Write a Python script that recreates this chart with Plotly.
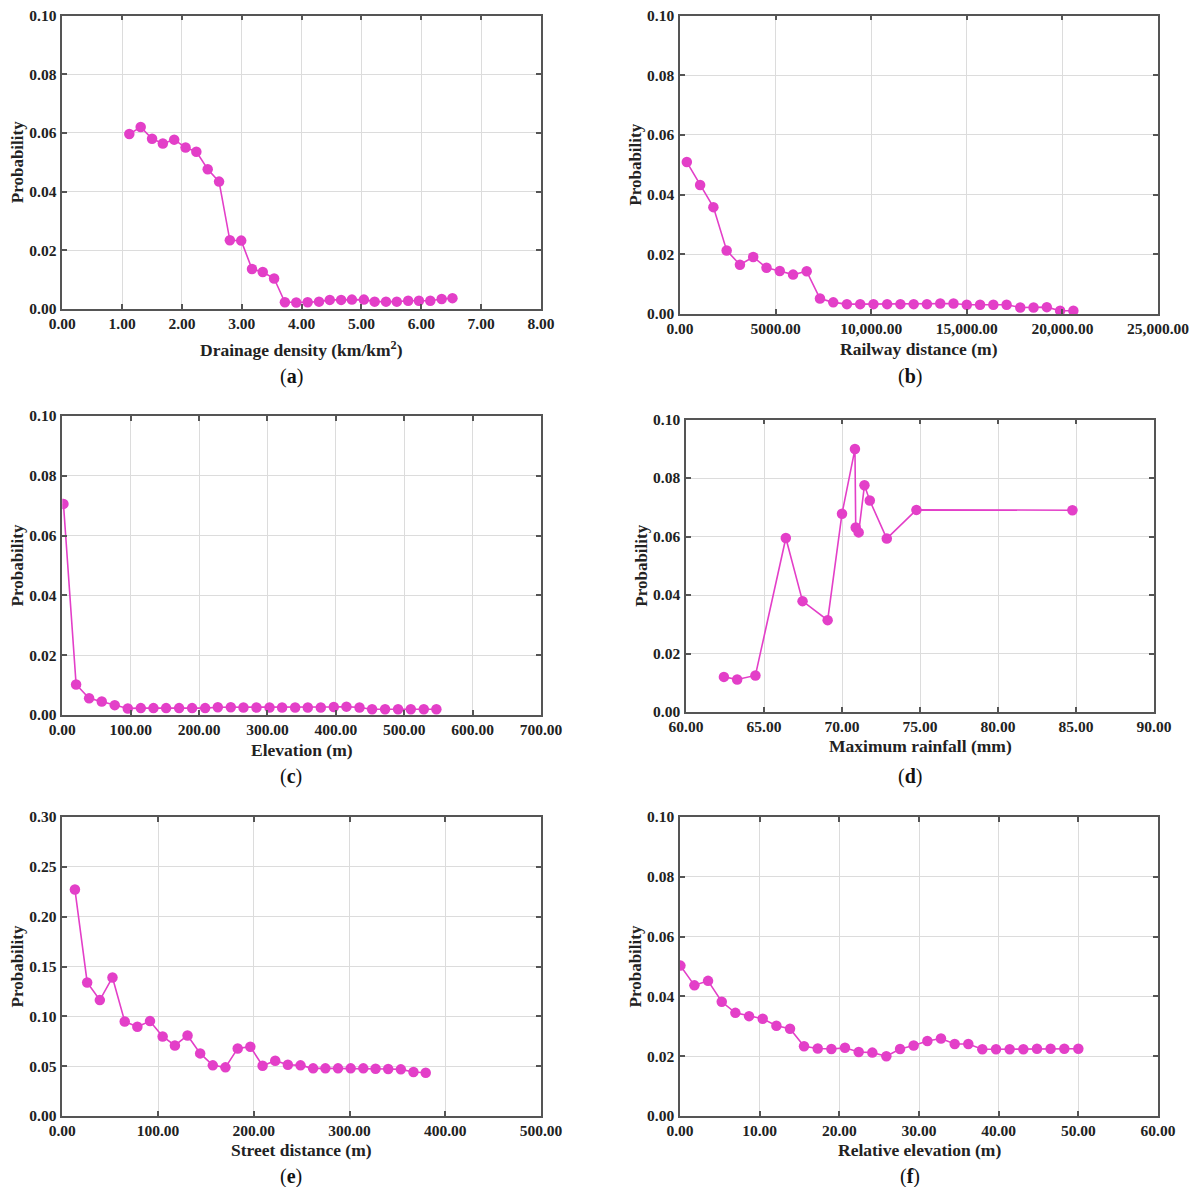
import plotly.graph_objects as go

W, H = 1195, 1187

# ---------------- data ----------------
dd_x = [1.12, 1.31, 1.50, 1.68, 1.87, 2.06, 2.24, 2.43, 2.62, 2.80, 2.99, 3.17, 3.35, 3.54, 3.72,
        3.91, 4.10, 4.29, 4.47, 4.66, 4.84, 5.04, 5.22, 5.41, 5.59, 5.78, 5.96, 6.15, 6.34, 6.52]
dd_p = [0.0596, 0.0620, 0.0580, 0.0564, 0.0577, 0.0550, 0.0536, 0.0476, 0.0434, 0.0234, 0.0233,
        0.0136, 0.0126, 0.0104, 0.0023, 0.0022, 0.0023, 0.0025, 0.0031, 0.0031, 0.0032, 0.0032,
        0.0025, 0.0025, 0.0025, 0.0028, 0.0028, 0.0028, 0.0034, 0.0037]

rail_x = [357, 1052, 1746, 2440, 3135, 3829, 4524, 5218, 5913, 6627, 7321, 8016, 8730, 9424, 10119,
          10833, 11527, 12222, 12916, 13611, 14305, 14999, 15694, 16388, 17082, 17796, 18491, 19185,
          19880, 20574]
rail_p = [0.0509, 0.0432, 0.0358, 0.0213, 0.0165, 0.0191, 0.0155, 0.0144, 0.0132, 0.0143, 0.0052,
          0.0039, 0.0033, 0.0033, 0.0033, 0.0033, 0.0033, 0.0033, 0.0033, 0.0035, 0.0035, 0.0031,
          0.0031, 0.0031, 0.0031, 0.0022, 0.0022, 0.0023, 0.0011, 0.0011]

elev_x = [1.7, 20.2, 39.2, 57.7, 76.7, 95.8, 114.8, 133.3, 151.8, 170.8, 189.8, 208.9, 227.4, 246.4,
          264.9, 283.9, 303.0, 321.4, 340.5, 359.0, 378.0, 397.0, 415.5, 434.6, 453.0, 472.0, 491.0,
          509.6, 528.6, 547.0]
elev_p = [0.0706, 0.0102, 0.0056, 0.0045, 0.0033, 0.0022, 0.0023, 0.0023, 0.0023, 0.0023, 0.0023,
          0.0023, 0.0026, 0.0026, 0.0025, 0.0025, 0.0025, 0.0025, 0.0025, 0.0025, 0.0025, 0.0027,
          0.0028, 0.0025, 0.0019, 0.0019, 0.0019, 0.0019, 0.0019, 0.0019]

rain_x = [62.43, 63.28, 64.45, 66.40, 67.47, 69.08, 70.00, 70.83, 70.88, 71.07, 71.44, 71.78, 72.87,
          74.77, 84.77]
rain_p = [0.0120, 0.0111, 0.0125, 0.0595, 0.0379, 0.0314, 0.0678, 0.0899, 0.0631, 0.0614, 0.0775,
          0.0723, 0.0593, 0.0691, 0.0690]

street_x = [13.2, 26.0, 39.2, 52.4, 65.2, 78.4, 91.6, 104.8, 117.6, 130.8, 144.0, 157.2, 170.4, 183.2,
            196.4, 209.2, 222.4, 235.6, 248.8, 262.0, 274.8, 288.0, 301.2, 314.4, 327.2, 340.4, 353.6,
            366.8, 379.6]
street_p = [0.2272, 0.1340, 0.1163, 0.1390, 0.0949, 0.0895, 0.0952, 0.0798, 0.0708, 0.0808, 0.0628,
            0.0508, 0.0488, 0.0678, 0.0695, 0.0504, 0.0555, 0.0514, 0.0508, 0.0478, 0.0478, 0.0478,
            0.0478, 0.0478, 0.0474, 0.0471, 0.0468, 0.0441, 0.0434]

rel_x = [0.05, 1.81, 3.52, 5.24, 6.95, 8.67, 10.38, 12.10, 13.81, 15.57, 17.29, 19.00, 20.71, 22.43,
         24.14, 25.90, 27.62, 29.33, 31.05, 32.76, 34.48, 36.19, 37.95, 39.67, 41.38, 43.10, 44.81,
         46.52, 48.24, 50.00]
rel_p = [0.0503, 0.0437, 0.0452, 0.0382, 0.0345, 0.0334, 0.0325, 0.0302, 0.0292, 0.0233, 0.0226,
         0.0224, 0.0228, 0.0214, 0.0212, 0.0200, 0.0224, 0.0236, 0.0251, 0.0259, 0.0241, 0.0241,
         0.0223, 0.0223, 0.0223, 0.0223, 0.0225, 0.0225, 0.0225, 0.0225]

# tick values / labels
dd_ticks = [0, 1, 2, 3, 4, 5, 6, 7, 8]
dd_ticktext = ["0.00", "1.00", "2.00", "3.00", "4.00", "5.00", "6.00", "7.00", "8.00"]
rail_ticks = [0, 5000, 10000, 15000, 20000, 25000]
rail_ticktext = ["0.00", "5000.00", "10,000.00", "15,000.00", "20,000.00", "25,000.00"]
elev_ticks = [0, 100, 200, 300, 400, 500, 600, 700]
elev_ticktext = ["0.00", "100.00", "200.00", "300.00", "400.00", "500.00", "600.00", "700.00"]
rain_ticks = [60, 65, 70, 75, 80, 85, 90]
rain_ticktext = ["60.00", "65.00", "70.00", "75.00", "80.00", "85.00", "90.00"]
street_ticks = [0, 100, 200, 300, 400, 500]
street_ticktext = ["0.00", "100.00", "200.00", "300.00", "400.00", "500.00"]
rel_ticks = [0, 10, 20, 30, 40, 50, 60]
rel_ticktext = ["0.00", "10.00", "20.00", "30.00", "40.00", "50.00", "60.00"]

prob_ticks = [0.0, 0.02, 0.04, 0.06, 0.08, 0.10]
prob_ticktext = ["0.00", "0.02", "0.04", "0.06", "0.08", "0.10"]
street_prob_ticks = [0.0, 0.05, 0.10, 0.15, 0.20, 0.25, 0.30]
street_prob_ticktext = ["0.00", "0.05", "0.10", "0.15", "0.20", "0.25", "0.30"]

titles = ["Drainage density (km/km<sup>2</sup>)", "Railway distance (m)", "Elevation (m)",
          "Maximum rainfall (mm)", "Street distance (m)", "Relative elevation (m)"]
letters = ["a", "b", "c", "d", "e", "f"]

# ---------------- layout geometry (pixels) ----------------
boxes = [(62.3, 541, 15.5, 309), (680, 1158, 15.5, 314),
         (62.3, 541, 416, 715), (686, 1154, 419.5, 712),
         (62.3, 541, 817, 1116), (680, 1158, 817, 1116)]
xtitle_y = [349, 349, 750, 746, 1150, 1150]
label_y = [376, 376, 776, 776, 1176, 1176]
label_x = [291, 910, 291, 910, 291, 910]

panels = [
    (dd_x, dd_p, dd_ticks, dd_ticktext, [0, 8], prob_ticks, prob_ticktext, [0, 0.1]),
    (rail_x, rail_p, rail_ticks, rail_ticktext, [0, 25000], prob_ticks, prob_ticktext, [0, 0.1]),
    (elev_x, elev_p, elev_ticks, elev_ticktext, [0, 700], prob_ticks, prob_ticktext, [0, 0.1]),
    (rain_x, rain_p, rain_ticks, rain_ticktext, [60, 90], prob_ticks, prob_ticktext, [0, 0.1]),
    (street_x, street_p, street_ticks, street_ticktext, [0, 500], street_prob_ticks, street_prob_ticktext, [0, 0.3]),
    (rel_x, rel_p, rel_ticks, rel_ticktext, [0, 60], prob_ticks, prob_ticktext, [0, 0.1]),
]

COLOR = "#E33FC8"
FONT = "Liberation Serif"
AXC = "#555555"

fig = go.Figure()
layout = dict(width=W, height=H, margin=dict(l=0, r=0, t=0, b=0),
              paper_bgcolor="white", plot_bgcolor="white", showlegend=False,
              font=dict(family=FONT, color="#222222"))
annotations = []

def px2x(px):
    return px / W

def py2y(py):
    return 1 - py / H

for i, (xs, ys, xt, xtt, xr, yt, ytt, yr) in enumerate(panels):
    n = i + 1
    xa = "x" if n == 1 else f"x{n}"
    ya = "y" if n == 1 else f"y{n}"
    fig.add_trace(go.Scatter(x=xs, y=ys, xaxis=xa, yaxis=ya, mode="lines+markers",
                             line=dict(color=COLOR, width=1.6),
                             marker=dict(color=COLOR, size=10.5)))
    l, r, t, b = boxes[i]
    common = dict(showline=True, linecolor=AXC, linewidth=1.5, mirror="ticks",
                  ticks="inside", ticklen=5, tickcolor=AXC, tickwidth=1.5,
                  showgrid=True, gridcolor="#dcdcdc", gridwidth=1, zeroline=False,
                  automargin=False,
                  tickfont=dict(family=FONT, size=15.5, color="#222222"))
    layout["xaxis" if n == 1 else f"xaxis{n}"] = dict(
        domain=[px2x(l), px2x(r)], anchor=ya, range=xr, tickmode="array",
        tickvals=xt, ticktext=[f"<b>{s}</b>" for s in xtt], ticklabelstandoff=0, **common)
    layout["yaxis" if n == 1 else f"yaxis{n}"] = dict(
        domain=[py2y(b), py2y(t)], anchor=xa, range=yr, tickmode="array",
        tickvals=yt, ticktext=[f"<b>{s}</b>" for s in ytt], ticklabelstandoff=1,
        title=dict(text="<b>Probability</b>", standoff=1,
                   font=dict(family=FONT, size=17, color="#222222")),
        **common)
    cx = (l + r) / 2
    annotations.append(dict(text=f"<b>{titles[i]}</b>", x=px2x(cx), y=py2y(xtitle_y[i]),
                            xref="paper", yref="paper", showarrow=False,
                            xanchor="center", yanchor="middle",
                            font=dict(family=FONT, size=17.5, color="#222222")))
    annotations.append(dict(text=f"(<b>{letters[i]}</b>)", x=px2x(label_x[i]), y=py2y(label_y[i]),
                            xref="paper", yref="paper", showarrow=False,
                            xanchor="center", yanchor="middle",
                            font=dict(family=FONT, size=20, color="#111111")))

layout["annotations"] = annotations
fig.update_layout(**layout)
fig.write_html("out.html")
